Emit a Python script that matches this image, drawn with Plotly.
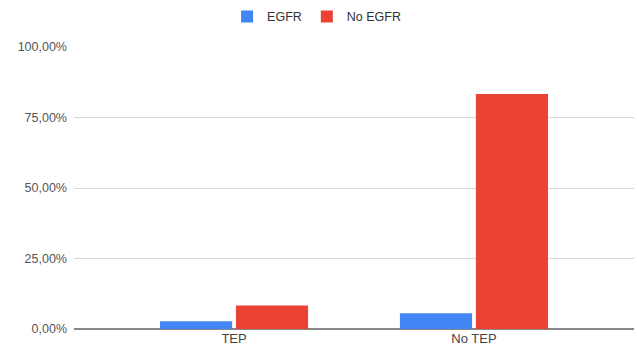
import plotly.graph_objects as go

# Share of patients per group (fraction of total)
categories = ["TEP", "No TEP"]
egfr = [1 / 36, 2 / 36]
no_egfr = [3 / 36, 30 / 36]
y_ticks = [0, 0.25, 0.5, 0.75, 1.0]

fig = go.Figure()
fig.add_trace(go.Bar(name="EGFR", x=categories, y=egfr, marker_color="#4285F4",
                     marker_line_width=0))
fig.add_trace(go.Bar(name="No EGFR", x=categories, y=no_egfr, marker_color="#EA4335",
                     marker_line_width=0))

fig.update_layout(
    width=637, height=355,
    margin=dict(l=74, r=3, t=47, b=26),
    paper_bgcolor="white", plot_bgcolor="white",
    separators=",.",
    barmode="group", bargap=0.367, bargroupgap=0.05,
    font=dict(family="Arial, Liberation Sans, sans-serif", size=12.5, color="#444444"),
    legend=dict(orientation="h", xref="container", yref="container",
                x=0.497, xanchor="center", y=0.995, yanchor="top",
                font=dict(size=12.5, color="#333333"),
                traceorder="normal"),
    showlegend=True,
)
fig.update_yaxes(range=[0, 1.0], tickvals=y_ticks, tickformat=".2%",
                 showgrid=True, gridcolor="#d9d9d9", gridwidth=1,
                 zeroline=True, zerolinecolor="#888888", zerolinewidth=1.5,
                 showline=False, ticks="", ticklabelstandoff=6,
                 tickfont=dict(size=12.5, color="#555555"))
fig.update_xaxes(range=[-0.667, 1.667], showgrid=False, showline=False,
                 ticks="", tickfont=dict(size=13, color="#444444"))

fig.write_html("out.html")
